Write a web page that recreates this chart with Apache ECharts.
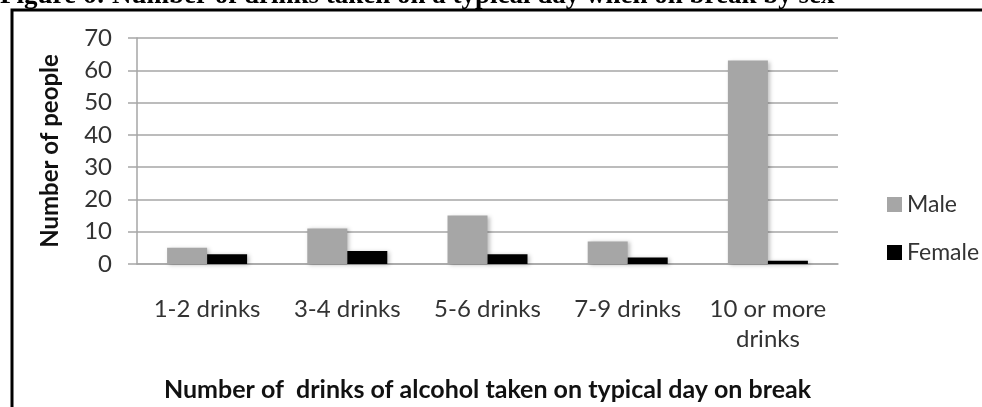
<!DOCTYPE html>
<html>
<head>
<meta charset="utf-8">
<script src="https://cdn.jsdelivr.net/npm/echarts@6/dist/echarts.min.js"></script>
<style>
  html, body { margin: 0; padding: 0; background: #fff; }
  #chart { width: 982px; height: 407px; }
</style>
</head>
<body>
<div id="chart"></div>
<script>
// data
const categories = ['1-2 drinks', '3-4 drinks', '5-6 drinks', '7-9 drinks', '10 or more\ndrinks'];
const maleValues = [5, 11, 15, 7, 63];
const femaleValues = [3, 4, 3, 2, 1];
const yTicks = { min: 0, max: 70, interval: 10 };

const font = 'Lato';
const myChart = echarts.init(document.getElementById('chart'));

const option = {
    animation: false,
    backgroundColor: '#fff',
    graphic: [
        {
            type: 'text',
            left: 0,
            top: -17,
            style: {
                text: 'Figure 6: Number of drinks taken on a typical day when on break by sex',
                font: 'bold 27px "Liberation Serif"',
                fill: '#000'
            }
        },
        {
            type: 'rect',
            shape: { x: 12, y: 10, width: 1000, height: 420 },
            style: { fill: 'none', stroke: '#000', lineWidth: 3 }
        }
    ],
    grid: {
        left: 137,
        right: 144,
        top: 38,
        bottom: 143
    },
    legend: {
        orient: 'vertical',
        left: 882,
        top: 188,
        itemWidth: 15,
        itemHeight: 15,
        itemGap: 25,
        icon: 'rect',
        textStyle: { fontFamily: font, fontSize: 23, color: '#333', lineHeight: 23 },
        data: ['Male', 'Female']
    },
    xAxis: {
        type: 'category',
        data: categories,
        axisLine: { lineStyle: { color: '#a6a6a6', width: 1.5 } },
        axisTick: { show: false },
        axisLabel: {
            fontFamily: font,
            fontSize: 24,
            lineHeight: 30,
            color: '#333',
            margin: 30,
            interval: 0
        },
        name: 'Number of  drinks of alcohol taken on typical day on break',
        nameLocation: 'middle',
        nameGap: 113,
        nameTextStyle: { fontFamily: font, fontSize: 25, fontWeight: 'bold', color: '#111' }
    },
    yAxis: {
        type: 'value',
        min: yTicks.min,
        max: yTicks.max,
        interval: yTicks.interval,
        axisLine: { show: true, lineStyle: { color: '#a6a6a6', width: 1.5 } },
        axisTick: { show: true, inside: false, length: 9, lineStyle: { color: '#a6a6a6', width: 1.5 } },
        splitLine: { lineStyle: { color: '#a6a6a6', width: 1.5 } },
        axisLabel: { fontFamily: font, fontSize: 24, color: '#333', margin: 25 },
        name: 'Number of people',
        nameLocation: 'middle',
        nameGap: 75,
        nameTextStyle: { fontFamily: font, fontSize: 24, fontWeight: 'bold', color: '#111' }
    },
    series: [
        {
            name: 'Male',
            type: 'bar',
            barWidth: 40,
            barGap: '0%',
            itemStyle: {
                color: '#a6a6a6',
                shadowBlur: 4,
                shadowColor: 'rgba(0,0,0,0.25)',
                shadowOffsetX: 2,
                shadowOffsetY: 1
            },
            data: maleValues
        },
        {
            name: 'Female',
            type: 'bar',
            barWidth: 40,
            barGap: '0%',
            itemStyle: {
                color: '#000',
                shadowBlur: 4,
                shadowColor: 'rgba(0,0,0,0.25)',
                shadowOffsetX: 2,
                shadowOffsetY: 1
            },
            data: femaleValues
        }
    ]
};

myChart.setOption(option, true);
</script>
</body>
</html>
